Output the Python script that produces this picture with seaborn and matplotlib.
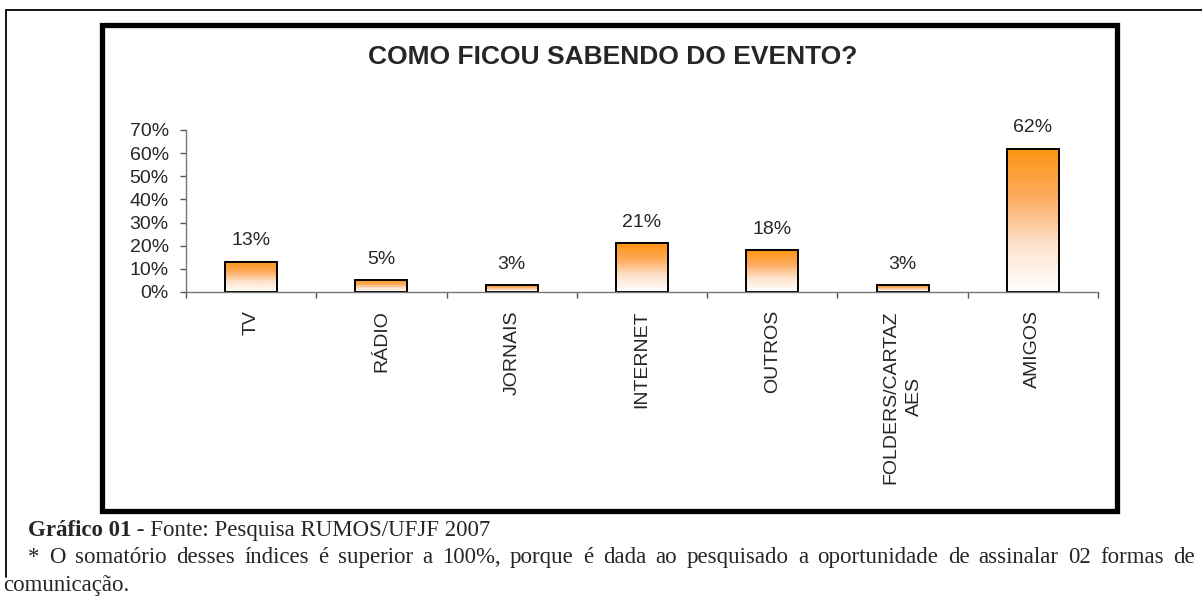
import numpy as np
import pandas as pd
import matplotlib
matplotlib.use("Agg")
import matplotlib.pyplot as plt
from matplotlib.patches import Rectangle
from matplotlib.lines import Line2D
from matplotlib.colors import LinearSegmentedColormap
from matplotlib.ticker import PercentFormatter, FixedLocator
import seaborn as sns

# data
categories = ["TV", "RÁDIO", "JORNAIS", "INTERNET", "OUTROS", "FOLDERS/CARTAZ\nAES", "AMIGOS"]
shares = [0.13, 0.05, 0.03, 0.21, 0.18, 0.03, 0.62]
y_ticks = [0.0, 0.1, 0.2, 0.3, 0.4, 0.5, 0.6, 0.7]

title = "COMO FICOU SABENDO DO EVENTO?"
caption_bold = "Gráfico 01"
caption_rest = " - Fonte: Pesquisa RUMOS/UFJF 2007"
note_line = ("* O somatório desses índices é superior a 100%, porque é dada ao pesquisado "
             "a oportunidade de assinalar 02 formas de")
note_end = "comunicação."

W, H = 1202, 601

sns.set_style("white")
plt.rcParams["font.family"] = ["Liberation Sans", "DejaVu Sans"]

fig = plt.figure(figsize=(W / 100, H / 100), dpi=100)
ax = fig.add_axes([186 / W, 1 - 292 / H, (1098 - 186) / W, (292 - 130) / H])

df = pd.DataFrame({"cat": categories, "share": shares})
sns.barplot(data=df, x="cat", y="share", width=0.4, color="white",
            edgecolor="black", linewidth=1.4, ax=ax)

# orange -> white gradient inside each bar
grad_cmap = LinearSegmentedColormap.from_list("og", ["#ffffff", "#fde3cc", "#fdaa5c", "#ff9410"])
grad = np.linspace(0, 1, 256).reshape(-1, 1)
for p in ax.patches:
    p.set_facecolor("none")
    x0, w, h = p.get_x(), p.get_width(), p.get_height()
    ax.imshow(grad, extent=(x0, x0 + w, 0, h), origin="lower", cmap=grad_cmap,
              aspect="auto", zorder=0.5, interpolation="bilinear")

ax.set_xlim(-0.5, len(categories) - 0.5)
ax.set_ylim(0, 0.70)

for c in ax.containers:
    ax.bar_label(c, labels=[f"{v * 100:.0f}%" for v in shares], padding=9, fontsize=14)

ax.set_xlabel("")
ax.set_ylabel("")
ax.yaxis.set_major_locator(FixedLocator(y_ticks))
ax.yaxis.set_major_formatter(PercentFormatter(1.0, decimals=0))
ax.set_xticks(range(len(categories)))
ax.set_xticklabels(categories, rotation=90, va="top", ha="center",
                   multialignment="center", linespacing=1.45)
ax.xaxis.set_minor_locator(FixedLocator(np.arange(-0.5, len(categories), 1.0)))
ax.tick_params(axis="y", labelsize=14, length=4.5, width=1, color="#555555",
               pad=8, left=True, direction="out")
ax.tick_params(axis="x", which="major", length=0, labelsize=14, pad=13)
ax.tick_params(axis="x", which="minor", length=4.5, width=1, color="#555555",
               bottom=True, direction="out")

sns.despine(ax=ax)
for s in ("left", "bottom"):
    ax.spines[s].set_color("#777777")
    ax.spines[s].set_linewidth(1.0)

fig.text(613 / W, 1 - 57 / H, title, ha="center", va="center",
         fontsize=19, fontweight="bold")

# thick chart frame
fig.patches.append(Rectangle((102.5 / W, 1 - 510.5 / H), (1116.5 - 102.5) / W,
                             (510.5 - 24.5) / H, transform=fig.transFigure,
                             fill=False, edgecolor="black", linewidth=3.8))
# thin page border (top and left)
fig.lines.append(Line2D([6 / W, 1.0], [1 - 10 / H, 1 - 10 / H], transform=fig.transFigure,
                        color="black", linewidth=1.3))
fig.lines.append(Line2D([6 / W, 6 / W], [1 - 577 / H, 1 - 10 / H], transform=fig.transFigure,
                        color="black", linewidth=1.3))

serif = ["Liberation Serif", "DejaVu Serif"]
cap_size = 16.5
renderer = fig.canvas.get_renderer()

t1 = fig.text(28 / W, 1 - 536 / H, caption_bold, family=serif, fontsize=cap_size,
              fontweight="bold", va="baseline")
bw = t1.get_window_extent(renderer).width
fig.text((28 + bw) / W, 1 - 536 / H, caption_rest, family=serif, fontsize=cap_size,
         va="baseline")

# justified second line
words = note_line.split(" ")
wtexts = [fig.text(0, 1 - 563 / H, wd, family=serif, fontsize=cap_size, va="baseline")
          for wd in words]
widths = [t.get_window_extent(renderer).width for t in wtexts]
gap = ((1195 - 28) - sum(widths)) / (len(words) - 1)
xpos = 28
for t, wd in zip(wtexts, widths):
    t.set_x(xpos / W)
    xpos += wd + gap

fig.text(3 / W, 1 - 591 / H, note_end, family=serif, fontsize=cap_size, va="baseline")

fig.savefig("out.png", dpi=100)
